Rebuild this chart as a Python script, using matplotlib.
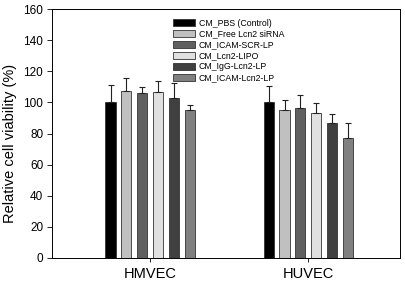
import matplotlib

matplotlib.use("Agg")

import matplotlib.pyplot as plt
import numpy as np

groups = ["HMVEC", "HUVEC"]
series = [
    "CM_PBS (Control)",
    "CM_Free Lcn2 siRNA",
    "CM_ICAM-SCR-LP",
    "CM_Lcn2-LIPO",
    "CM_IgG-Lcn2-LP",
    "CM_ICAM-Lcn2-LP",
]
means = [
    [100.0, 100.0],
    [107.5, 95.0],
    [106.0, 96.7],
    [106.7, 93.3],
    [102.7, 86.5],
    [95.0, 77.2],
]
errors = [
    [11.2, 10.6],
    [8.0, 6.4],
    [4.1, 8.1],
    [6.9, 6.6],
    [10.0, 6.3],
    [3.2, 9.4],
]
colors = ["#000000", "#c0c0c0", "#606060", "#e0e0e0", "#404040", "#808080"]

plt.rcParams["font.family"] = ["Liberation Sans", "DejaVu Sans"]

fig = plt.figure(figsize=(4.05, 2.81), dpi=100)
ax = fig.add_axes([52 / 405, 23 / 281, 348 / 405, 249 / 281])

x = np.arange(len(groups))
step = 0.1
width = 0.064
for i, (name, vals, errs, col) in enumerate(zip(series, means, errors, colors)):
    pos = x + (i - 2.5) * step
    ax.bar(pos, vals, width, color=col, edgecolor="#333333", linewidth=0.6, label=name,
           yerr=[np.zeros(len(errs)), errs], capsize=2.5,
           error_kw=dict(elinewidth=0.8, capthick=0.8, ecolor="#222222"))

ax.set_xlim(-0.62, 1.58)
ax.set_ylim(0, 160)
ax.set_yticks(np.arange(0, 161, 20))
ax.set_xticks(x)
ax.set_xticklabels(groups, fontsize=10.5)
ax.tick_params(axis="y", labelsize=8.5, direction="out", length=3.8, width=0.6, pad=2.5)
ax.tick_params(axis="x", direction="out", length=3, width=0.6)
ax.set_ylabel("Relative cell viability (%)", fontsize=10.5)
ax.yaxis.set_label_coords(-0.1, 0.46)
for sp in ax.spines.values():
    sp.set_linewidth(0.7)

ax.legend(loc="upper left", bbox_to_anchor=(0.338, 0.975), frameon=False, fontsize=6.3,
          handlelength=2.5, handleheight=0.8, labelspacing=0.22, handletextpad=0.45,
          borderaxespad=0)

fig.savefig("out.png", dpi=100)
